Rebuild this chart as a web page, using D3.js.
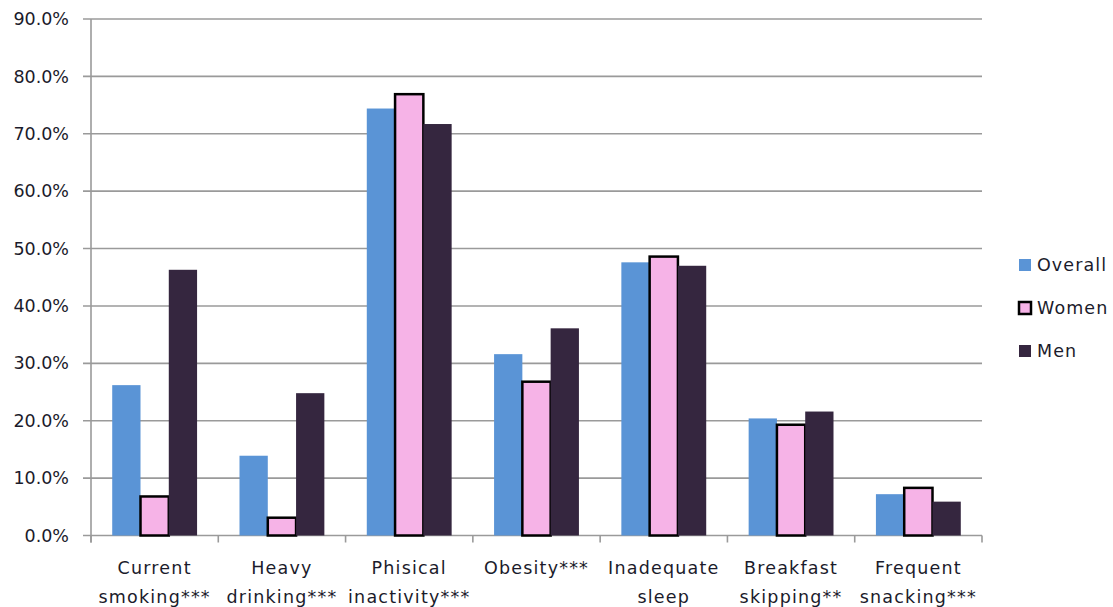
<!DOCTYPE html>
<html><head><meta charset="utf-8">
<script src="https://cdn.jsdelivr.net/npm/d3@7"></script>
<style>body{margin:0;background:#fff}svg{display:block}</style>
</head><body>
<svg id="c" width="1113" height="607"></svg>
<script>
const categories = [["Current","smoking***"],["Heavy","drinking***"],["Phisical","inactivity***"],["Obesity***"],["Inadequate","sleep"],["Breakfast","skipping**"],["Frequent","snacking***"]];
const seriesNames = ["Overall","Women","Men"];
const overall = [26.2,13.9,74.4,31.6,47.6,20.4,7.2];
const women = [6.8,3.1,76.9,26.8,48.6,19.3,8.3];
const men = [46.3,24.8,71.7,36.1,47.0,21.6,5.9];
const yTicks = [0,10,20,30,40,50,60,70,80,90];
const colors = ["#5A94D6","#F6B3E7","#35263F"];

const svg = d3.select("#c");
const L=91, R=982, T=19, B=535.5;
const x = d3.scaleBand().domain(d3.range(categories.length)).range([L,R]).paddingInner(0).paddingOuter(0);
const y = d3.scaleLinear().domain([0,90]).range([B,T]);
const inner = d3.scaleBand().domain(d3.range(3)).range([0,x.bandwidth()]).paddingInner(0).paddingOuter(0.75);
const font = "'DejaVu Sans', Verdana, sans-serif";
const grid = "#9a9a9a";

// gridlines
svg.append("g").selectAll("line").data(yTicks).join("line")
  .attr("x1",L-8).attr("x2",R).attr("y1",d=>y(d)).attr("y2",d=>y(d))
  .attr("stroke",grid).attr("stroke-width",1.6);
// y axis line
svg.append("line").attr("x1",L).attr("x2",L).attr("y1",T).attr("y2",B+7).attr("stroke",grid).attr("stroke-width",1.6);
// y labels
svg.append("g").selectAll("text").data(yTicks).join("text")
  .attr("x",69).attr("y",d=>y(d)).attr("dy","0.35em").attr("text-anchor","end")
  .attr("font-family",font).attr("font-size",17.5).attr("fill","#1b1b2b")
  .text(d=>d.toFixed(1)+"%");
// x ticks
svg.append("g").selectAll("line").data(d3.range(categories.length+1)).join("line")
  .attr("x1",d=>L+d*x.step()).attr("x2",d=>L+d*x.step()).attr("y1",B).attr("y2",B+7)
  .attr("stroke",grid).attr("stroke-width",1.6);

const data = [overall,women,men];
data.forEach((vals,si)=>{
  svg.append("g").selectAll("rect").data(vals).join("rect")
    .attr("x",(d,i)=>x(i)+inner(si))
    .attr("width",inner.bandwidth())
    .attr("y",d=>y(d))
    .attr("height",d=>B-y(d))
    .attr("fill",colors[si])
    .attr("stroke",si===1?"#000":"none")
    .attr("stroke-width",si===1?2.5:0);
});

// x labels
const xl = svg.append("g").selectAll("text").data(categories).join("text")
  .attr("x",(d,i)=>x(i)+x.bandwidth()/2).attr("text-anchor","middle")
  .attr("font-family",font).attr("font-size",17.5).attr("letter-spacing",1.2).attr("fill","#1b1b2b");
xl.each(function(d){
  const t=d3.select(this);
  d.forEach((s,k)=>t.append("tspan").attr("x",t.attr("x")).attr("y",574+k*29).text(s));
});

// legend
const lg = svg.append("g");
seriesNames.forEach((n,i)=>{
  const cy = 265+i*43;
  lg.append("rect").attr("x",1019).attr("y",cy-6).attr("width",12).attr("height",12)
    .attr("fill",colors[i]).attr("stroke",i===1?"#000":"none").attr("stroke-width",i===1?2.5:0);
  lg.append("text").attr("x",1037).attr("y",cy).attr("dy","0.35em")
    .attr("font-family",font).attr("font-size",17.5).attr("letter-spacing",1.1).attr("fill","#1b1b2b").text(n);
});
</script>
</body></html>
